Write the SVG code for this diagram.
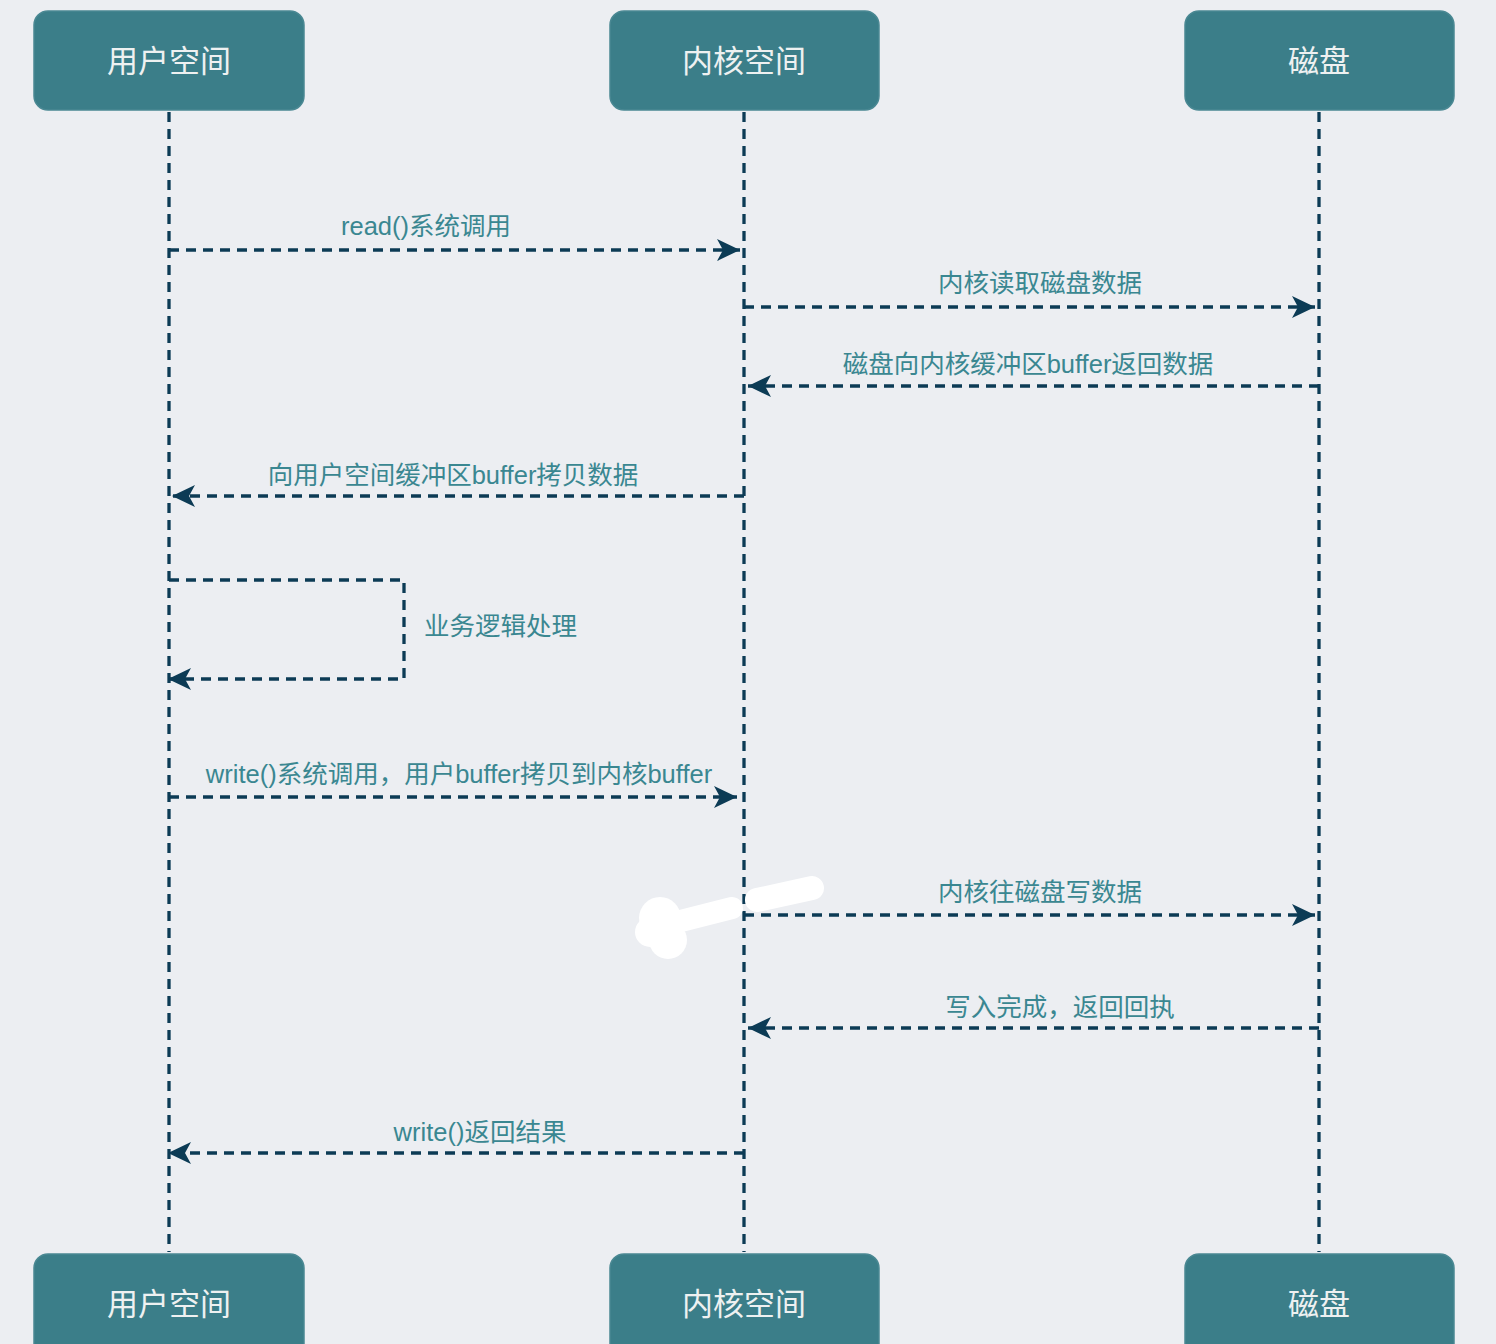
<svg xmlns="http://www.w3.org/2000/svg" width="1496" height="1344" viewBox="0 0 1496 1344">
<defs>
<style>
.box{fill:#3b7e89;stroke:#4a8893;stroke-width:1.5}
.bt{fill:#eef1f1;font-family:"Liberation Sans","Noto Sans CJK SC",sans-serif;font-size:31px;text-anchor:middle;dominant-baseline:central}
.life{stroke:#0c3b55;stroke-width:3.3;stroke-dasharray:10 7;fill:none}
.msg{stroke:#0c3b55;stroke-width:3.3;stroke-dasharray:10 7;fill:none;marker-end:url(#ah)}
.lbl{fill:#3a8791;font-family:"Liberation Sans","Noto Sans CJK SC",sans-serif;font-size:25.5px;text-anchor:middle;dominant-baseline:central}
</style>
<marker id="ah" markerUnits="userSpaceOnUse" markerWidth="24" markerHeight="24" viewBox="0 0 24 24" refX="23" refY="12" orient="auto">
<path d="M0,1 L23,12 L0,23 L6,12 Z" fill="#0c3b55"/>
</marker>
</defs>
<rect width="1496" height="1344" fill="#eceef2"/>
<g id="lifelines">
<line class="life" x1="169" y1="112" x2="169" y2="1252"/>
<line class="life" x1="744" y1="112" x2="744" y2="1252"/>
<line class="life" x1="1319" y1="112" x2="1319" y2="1252"/>
</g>
<g id="connectors">
<line class="msg" x1="169" y1="250" x2="740" y2="250"/>
<line class="msg" x1="744" y1="307" x2="1315" y2="307"/>
<line class="msg" x1="1319" y1="386" x2="748" y2="386"/>
<line class="msg" x1="744" y1="496" x2="172" y2="496"/>
<path class="msg" d="M169,580 L404,580 L404,679 L168,679"/>
<line class="msg" x1="169" y1="797" x2="737" y2="797"/>
<line class="msg" x1="744" y1="915" x2="1315" y2="915"/>
<line class="msg" x1="1319" y1="1028" x2="748" y2="1028"/>
<line class="msg" x1="744" y1="1153" x2="168" y2="1153"/>
</g>
<g id="labels">
<text class="lbl" x="426" y="226">read()系统调用</text>
<text class="lbl" x="1040" y="283">内核读取磁盘数据</text>
<text class="lbl" x="1028" y="364">磁盘向内核缓冲区buffer返回数据</text>
<text class="lbl" x="453" y="475">向用户空间缓冲区buffer拷贝数据</text>
<text class="lbl" x="424" y="626" style="text-anchor:start">业务逻辑处理</text>
<text class="lbl" x="459" y="774">write()系统调用，用户buffer拷贝到内核buffer</text>
<text class="lbl" x="1040" y="892">内核往磁盘写数据</text>
<text class="lbl" x="1060" y="1007">写入完成，返回回执</text>
<text class="lbl" x="480" y="1132">write()返回结果</text>
</g>
<g id="smudge" fill="#ffffff" stroke="#ffffff" stroke-linecap="round">
<circle cx="660" cy="918" r="21" stroke="none"/>
<circle cx="668" cy="940" r="19" stroke="none"/>
<circle cx="650" cy="932" r="15" stroke="none"/>
<path d="M665,925 L732,908" stroke-width="22" fill="none"/>
<path d="M757,900 L812,888" stroke-width="24" fill="none"/>
</g>
<g id="node-user-top"><rect class="box" x="34" y="11" width="270" height="99" rx="14"/><text class="bt" x="169" y="61">用户空间</text></g>
<g id="node-kernel-top"><rect class="box" x="610" y="11" width="269" height="99" rx="14"/><text class="bt" x="744" y="61">内核空间</text></g>
<g id="node-disk-top"><rect class="box" x="1185" y="11" width="269" height="99" rx="14"/><text class="bt" x="1319" y="61">磁盘</text></g>
<g id="node-user-bottom"><rect class="box" x="34" y="1254" width="270" height="110" rx="14"/><text class="bt" x="169" y="1304">用户空间</text></g>
<g id="node-kernel-bottom"><rect class="box" x="610" y="1254" width="269" height="110" rx="14"/><text class="bt" x="744" y="1304">内核空间</text></g>
<g id="node-disk-bottom"><rect class="box" x="1185" y="1254" width="269" height="110" rx="14"/><text class="bt" x="1319" y="1304">磁盘</text></g>
</svg>
